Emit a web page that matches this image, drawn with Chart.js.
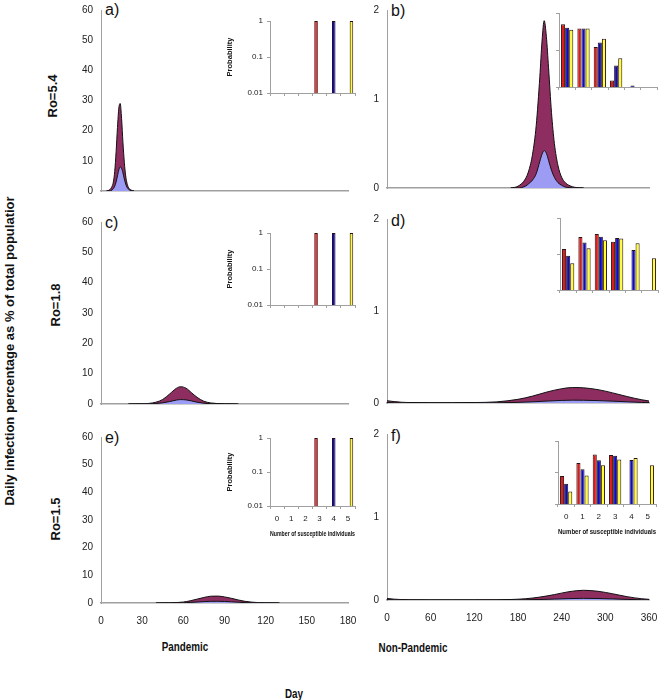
<!DOCTYPE html>
<html>
<head>
<meta charset="utf-8">
<script src="https://cdn.jsdelivr.net/npm/chart.js"></script>
<style>
  body { margin: 0; background: #fff; width: 661px; height: 700px; position: relative; overflow: hidden;
         font-family: "Liberation Sans", Arial, sans-serif; color: #111; }
  canvas { position: absolute; }
  .txt { position: absolute; white-space: nowrap; }
  .rot { transform: translate(-50%, -50%) rotate(-90deg); font-weight: bold; }
  .cap { transform: translate(-50%, -50%) scaleX(0.82); font-weight: bold; font-size: 12px; }
  .pl { font-size: 16px; transform: translateY(-50%); }
</style>
</head>
<body>
<div class="txt rot" style="left:9px; top:351px; font-size:13px;">Daily infection percentage as % of total populatior</div>
<div class="txt rot" style="left:52px; top:96px; font-size:13px;">Ro=5.4</div>
<div class="txt rot" style="left:55px; top:305px; font-size:13px;">Ro=1.8</div>
<div class="txt rot" style="left:55px; top:519px; font-size:13px;">Ro=1.5</div>
<div class="txt cap" style="left:185px; top:647px;">Pandemic</div>
<div class="txt cap" style="left:413px; top:648px;">Non-Pandemic</div>
<div class="txt cap" style="left:294px; top:694px;">Day</div>
<div class="txt pl" style="left:105px; top:10px;">a)</div>
<div class="txt pl" style="left:391px; top:11px;">b)</div>
<div class="txt pl" style="left:105px; top:223px;">c)</div>
<div class="txt pl" style="left:391px; top:221px;">d)</div>
<div class="txt pl" style="left:105px; top:438px;">e)</div>
<div class="txt pl" style="left:391px; top:436px;">f)</div>

<script>
// ---- daily infection curves (% of population), total and light-blue component ----
const aDays  = [4, 6, 8, 9, 10, 11, 12, 13, 14, 15, 16, 17, 18, 19, 20, 22, 24];
const aTotal = [0, 0.3, 1.5, 3, 6.5, 13, 21, 27.5, 29, 24, 16, 9.5, 5, 2.5, 1.2, 0.3, 0];
const aBlue  = [0, 0, 0.3, 0.8, 1.6, 3, 5, 7, 8, 7.5, 6, 4, 2.3, 1.2, 0.6, 0.1, 0];

const bDays  = [170, 180, 190, 195, 200, 205, 210, 213, 216, 219, 222, 226, 230, 235, 240, 245, 250, 260, 270];
const bTotal = [0, 0.02, 0.1, 0.2, 0.38, 0.7, 1.25, 1.65, 1.88, 1.7, 1.35, 0.85, 0.5, 0.25, 0.12, 0.06, 0.03, 0.005, 0];
const bBlue  = [0, 0, 0.02, 0.05, 0.09, 0.16, 0.3, 0.38, 0.42, 0.39, 0.31, 0.2, 0.12, 0.06, 0.03, 0.01, 0.005, 0, 0];

const cDays  = [20, 30, 35, 40, 45, 50, 55, 58, 62, 66, 70, 75, 80, 90, 100];
const cTotal = [0, 0.05, 0.2, 0.6, 1.5, 3.3, 5.2, 5.7, 5.2, 3.7, 2.2, 0.9, 0.35, 0.05, 0];
const cBlue  = [0, 0.01, 0.05, 0.15, 0.4, 0.8, 1.3, 1.45, 1.35, 1.0, 0.6, 0.25, 0.1, 0.01, 0];

const dDays  = [0, 10, 20, 30, 60, 90, 120, 150, 180, 200, 220, 240, 255, 270, 290, 310, 330, 350, 360];
const dTotal = [0.025, 0.015, 0.008, 0.005, 0.003, 0.003, 0.005, 0.012, 0.04, 0.075, 0.12, 0.155, 0.168, 0.165, 0.145, 0.11, 0.07, 0.035, 0.022];
const dBlue  = [0.005, 0.003, 0.002, 0.001, 0, 0, 0.001, 0.002, 0.007, 0.013, 0.021, 0.028, 0.031, 0.03, 0.026, 0.02, 0.013, 0.006, 0.004];

const eDays  = [40, 50, 60, 65, 70, 75, 80, 85, 90, 95, 100, 105, 110, 120, 130];
const eTotal = [0, 0.05, 0.35, 0.8, 1.4, 2.0, 2.45, 2.5, 2.2, 1.7, 1.1, 0.6, 0.3, 0.05, 0];
const eBlue  = [0, 0.01, 0.08, 0.2, 0.35, 0.5, 0.6, 0.62, 0.55, 0.42, 0.28, 0.15, 0.07, 0.01, 0];

const fDays  = [0, 10, 20, 30, 60, 90, 120, 150, 170, 190, 210, 230, 250, 270, 290, 310, 330, 350, 360];
const fTotal = [0.018, 0.01, 0.005, 0.002, 0.001, 0.001, 0.001, 0.002, 0.006, 0.015, 0.035, 0.065, 0.1, 0.117, 0.105, 0.075, 0.04, 0.015, 0.008];
const fBlue  = [0.004, 0.002, 0.001, 0, 0, 0, 0, 0, 0.001, 0.003, 0.006, 0.011, 0.017, 0.02, 0.018, 0.013, 0.007, 0.003, 0.001];

// ---- inset: probability of number of susceptible individuals ----
const susLabels = ['0', '1', '2', '3', '4', '5'];
// pandemic insets (a, c, e share the same values)
const pRed    = [null, null, null, 1, null, null];
const pBlue   = [null, null, null, null, 1, null];
const pYellow = [null, null, null, null, null, 1];
// non-pandemic insets
const bRed    = [0.5, 0.38, 0.12, 0.015, null, null];
const bBlueP  = [0.4, 0.38, 0.16, 0.038, 0.011, null];
const bYellow = [0.35, 0.38, 0.2, 0.06, null, null];
const dRed    = [0.137, 0.295, 0.36, 0.22, null, null];
const dBlueP  = [0.089, 0.21, 0.30, 0.28, 0.13, null];
const dYellow = [0.055, 0.145, 0.24, 0.27, 0.2, 0.076];
const fRed    = [0.078, 0.2, 0.37, 0.36, null, null];
const fBlueP  = [0.044, 0.126, 0.245, 0.34, 0.25, null];
const fYellow = [0.025, 0.08, 0.17, 0.26, 0.29, 0.17];

const MAROON = '#8e2d60';
const LILAC = '#9c9cf5';
const AXIS = '#a0a0a0';
const FONT = '"Liberation Sans", Arial, sans-serif';

function makeCanvas(box) {
  const c = document.createElement('canvas');
  const w = box.yW + (box.r - box.l) + box.padR;
  const h = box.padT + (box.b - box.t) + box.xH;
  c.width = w; c.height = h;
  c.style.width = w + 'px'; c.style.height = h + 'px';
  c.style.left = (box.l - box.yW) + 'px';
  c.style.top = (box.t - box.padT) + 'px';
  document.body.appendChild(c);
  return c;
}

function curveChart(box, days, total, blue, xMax, xStep, yMax, yStep, showX) {
  const pts = arr => days.map((d, i) => ({ x: d, y: arr[i] }));
  const line = { borderColor: '#111', borderWidth: 1, fill: 'origin', pointRadius: 0,
                 tension: 0.4, cubicInterpolationMode: 'monotone' };
  new Chart(makeCanvas(box), {
    type: 'line',
    data: {
      datasets: [
        Object.assign({ data: pts(blue), backgroundColor: LILAC }, line),
        Object.assign({ data: pts(total), backgroundColor: MAROON }, line)
      ]
    },
    options: {
      responsive: false, animation: false, devicePixelRatio: 1,
      layout: { padding: { top: box.padT, right: box.padR, left: 0, bottom: 0 } },
      plugins: { legend: { display: false }, tooltip: { enabled: false } },
      scales: {
        x: {
          type: 'linear', min: 0, max: xMax,
          grid: { display: false, drawTicks: false },
          border: { color: AXIS, width: 1.5 },
          ticks: { display: showX, stepSize: xStep, maxRotation: 0, padding: 12,
                   color: '#222', font: { family: FONT, size: 10 } },
          afterFit: s => { s.height = box.xH; }
        },
        y: {
          min: 0, max: yMax,
          grid: { display: false, drawTicks: false },
          border: { color: AXIS, width: 1 },
          ticks: { stepSize: yStep, padding: 8, color: '#222', font: { family: FONT, size: 10 } },
          afterFit: s => { s.width = box.yW; }
        }
      }
    }
  });
}

function insetChart(box, red, blue, yellow, showY, showX) {
  const bar = { borderColor: '#2a1010', borderWidth: 1, categoryPercentage: 0.75, barPercentage: 1 };
  new Chart(makeCanvas(box), {
    type: 'bar',
    data: {
      labels: susLabels,
      datasets: [
        Object.assign({ data: red, backgroundColor: '#e01818' }, bar),
        Object.assign({ data: blue, backgroundColor: '#0a0ac8' }, bar),
        Object.assign({ data: yellow, backgroundColor: '#ffff30' }, bar)
      ]
    },
    options: {
      responsive: false, animation: false, devicePixelRatio: 1,
      layout: { padding: { top: box.padT, right: box.padR, left: 0, bottom: 0 } },
      plugins: { legend: { display: false }, tooltip: { enabled: false } },
      scales: {
        x: {
          grid: { display: true, drawOnChartArea: false, tickLength: 3, color: AXIS, offset: true },
          border: { color: AXIS },
          ticks: { display: showX, padding: 5, color: '#222', font: { family: FONT, size: 8 } },
          title: { display: showX, text: 'Number of susceptible individuals', padding: { top: 4, bottom: 0 },
                   color: '#111', font: { family: FONT, size: 6.5, weight: 'bold' } },
          afterFit: s => { s.height = box.xH; }
        },
        y: {
          type: 'logarithmic', min: 0.01, max: 1,
          afterBuildTicks: s => { s.ticks = [0.01, 0.1, 1].map(v => ({ value: v })); },
          grid: { display: true, drawOnChartArea: false, tickLength: 3, color: AXIS },
          border: { color: AXIS },
          ticks: { display: showY, padding: 4, color: '#222', font: { family: FONT, size: 8 },
                   callback: v => String(v) },
          title: { display: showY, text: 'Probability', padding: 0,
                   color: '#111', font: { family: FONT, size: 7.5, weight: 'bold' } },
          afterFit: s => { s.width = box.yW; }
        }
      }
    }
  });
}

// main panels
curveChart({ l: 101, r: 348, t: 10,  b: 191, yW: 41, xH: 14, padT: 14, padR: 24 }, aDays, aTotal, aBlue, 180, 30, 60, 10, false);
curveChart({ l: 387, r: 649, t: 10,  b: 188, yW: 37, xH: 14, padT: 14, padR: 24 }, bDays, bTotal, bBlue, 360, 60, 2, 1, false);
curveChart({ l: 101, r: 348, t: 222, b: 404, yW: 41, xH: 14, padT: 14, padR: 24 }, cDays, cTotal, cBlue, 180, 30, 60, 10, false);
curveChart({ l: 387, r: 649, t: 219, b: 403, yW: 37, xH: 14, padT: 14, padR: 24 }, dDays, dTotal, dBlue, 360, 60, 2, 1, false);
curveChart({ l: 101, r: 348, t: 437, b: 603, yW: 41, xH: 28, padT: 14, padR: 24 }, eDays, eTotal, eBlue, 180, 30, 60, 10, true);
curveChart({ l: 387, r: 649, t: 434, b: 600, yW: 37, xH: 28, padT: 14, padR: 24 }, fDays, fTotal, fBlue, 360, 60, 2, 1, true);

// insets
insetChart({ l: 270, r: 355, t: 21,  b: 93,  yW: 45, xH: 10, padT: 10, padR: 8 }, pRed, pBlue, pYellow, true, false);
insetChart({ l: 270, r: 355, t: 233, b: 305, yW: 45, xH: 10, padT: 10, padR: 8 }, pRed, pBlue, pYellow, true, false);
insetChart({ l: 270, r: 355, t: 438, b: 506, yW: 45, xH: 32, padT: 10, padR: 8 }, pRed, pBlue, pYellow, true, true);
insetChart({ l: 559, r: 657, t: 13,  b: 87,  yW: 8,  xH: 6,  padT: 3,  padR: 8 }, bRed, bBlueP, bYellow, false, false);
insetChart({ l: 560, r: 658, t: 218, b: 290, yW: 8,  xH: 6,  padT: 3,  padR: 8 }, dRed, dBlueP, dYellow, false, false);
insetChart({ l: 558, r: 656, t: 441, b: 504, yW: 8,  xH: 32, padT: 3,  padR: 8 }, fRed, fBlueP, fYellow, false, true);
</script>
</body>
</html>
